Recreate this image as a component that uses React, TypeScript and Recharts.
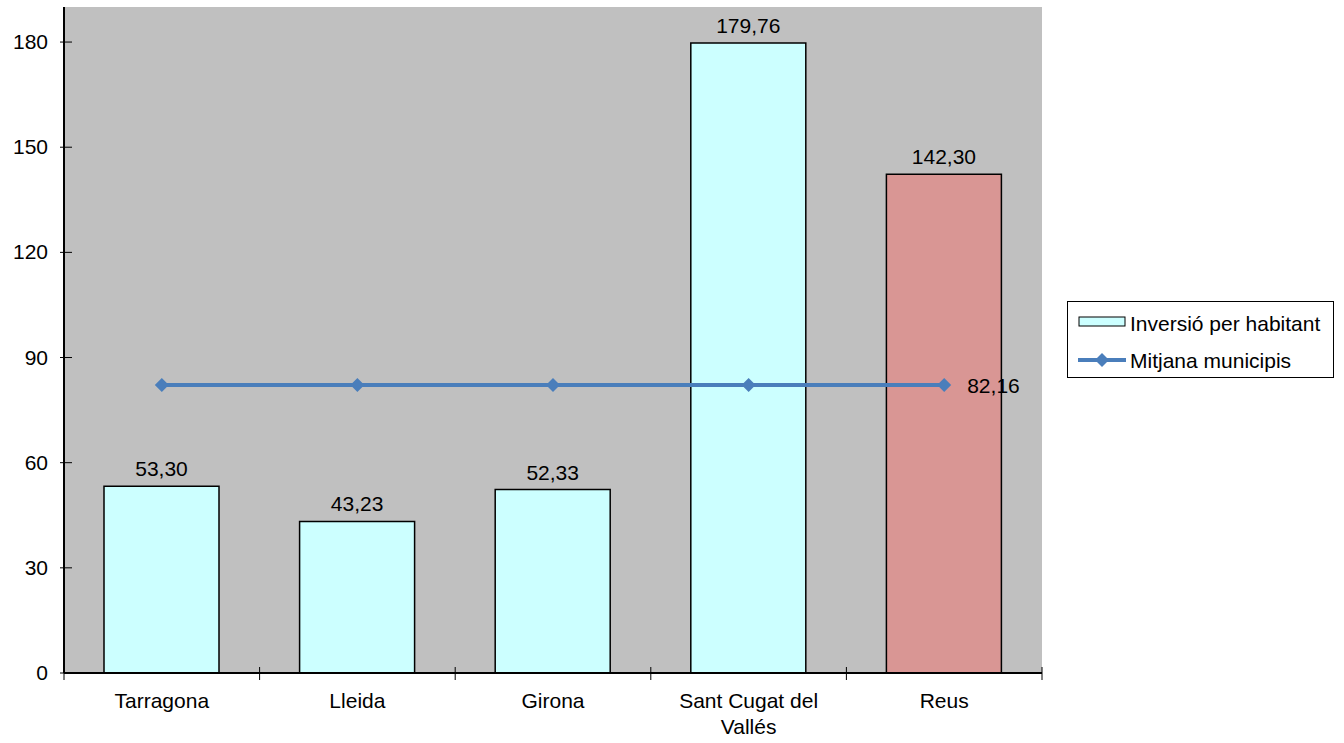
import React from "react";
import {
  ComposedChart,
  Bar,
  Line,
  XAxis,
  YAxis,
  CartesianGrid,
  Cell,
  LabelList,
} from "recharts";

const cities = ["Tarragona", "Lleida", "Girona", "Sant Cugat del Vallés", "Reus"];
const inversio = [53.3, 43.23, 52.33, 179.76, 142.3];
const mitjana = [82.16, 82.16, 82.16, 82.16, 82.16];
const yTicks = [0, 30, 60, 90, 120, 150, 180];

const data = cities.map((c, i) => ({ city: c, inversio: inversio[i], mitjana: mitjana[i] }));

const FONT = "'Liberation Sans', Arial, sans-serif";
const FS = 21;
const HALF_BAND = 97.8;
const fmt = (v: number) => v.toFixed(2).replace(".", ",");

// wrap a category name into lines of at most ~14 characters
const wrap = (s: string, max = 14) => {
  const lines: string[] = [];
  let cur = "";
  s.split(" ").forEach((w) => {
    const next = cur ? cur + " " + w : w;
    if (next.length > max && cur) {
      lines.push(cur);
      cur = w;
    } else {
      cur = next;
    }
  });
  if (cur) lines.push(cur);
  return lines;
};

const YTick = (props: any) => {
  const { x, y, payload } = props;
  return (
    <g>
      <line x1={x + 4} x2={x + 16} y1={y} y2={y} stroke="#000" />
      <text x={x - 8} y={y} dy={7} textAnchor="end" fontSize={FS} fontFamily={FONT} fill="#000">
        {payload.value}
      </text>
    </g>
  );
};

const XTick = (props: any) => {
  const { x, y, payload, index } = props;
  return (
    <g>
      <line x1={x - HALF_BAND} x2={x - HALF_BAND} y1={y - 14} y2={y - 1} stroke="#000" />
      {index === cities.length - 1 && (
        <line x1={x + HALF_BAND} x2={x + HALF_BAND} y1={y - 14} y2={y - 1} stroke="#000" />
      )}
      <text x={x} y={y + 27} textAnchor="middle" fontSize={FS} fontFamily={FONT} fill="#000">
        {wrap(payload.value).map((l, i) => (
          <tspan key={i} x={x} dy={i === 0 ? 0 : 26}>
            {l}
          </tspan>
        ))}
      </text>
    </g>
  );
};

const Diamond = (props: any) => {
  const { cx, cy } = props;
  if (cx == null || cy == null) return null;
  const s = 7;
  return (
    <polygon
      points={`${cx},${cy - s} ${cx + s},${cy} ${cx},${cy + s} ${cx - s},${cy}`}
      fill="#4A7EBB"
    />
  );
};

const LastLabel = (props: any) => {
  const { x, y, index, value } = props;
  if (index !== cities.length - 1) return null;
  return (
    <text x={x + 23} y={y} dy={8} fontSize={FS} fontFamily={FONT} fill="#000">
      {fmt(value)}
    </text>
  );
};

const Legend = () => (
  <div
    style={{
      position: "absolute",
      left: 1067,
      top: 301,
      width: 265,
      height: 75,
      border: "1px solid #000",
      background: "#fff",
    }}
  >
    <svg width={265} height={75} style={{ position: "absolute", left: 0, top: 0 }}>
      <rect x={11} y={15} width={46} height={9} fill="#CCFFFF" stroke="#000" />
      <text x={62} y={29} fontSize={FS} fontFamily={FONT} fill="#000">Inversió per habitant</text>
      <line x1={10} x2={58} y1={58} y2={58} stroke="#4A7EBB" strokeWidth={4} />
      <polygon points="34,51 41,58 34,65 27,58" fill="#4A7EBB" />
      <text x={62} y={66} fontSize={FS} fontFamily={FONT} fill="#000">Mitjana municipis</text>
    </svg>
  </div>
);

export default function App() {
  return (
    <div style={{ position: "absolute", left: 0, top: 0, width: 1344, height: 743, background: "#fff" }}>
      <ComposedChart
        width={1344}
        height={743}
        data={data}
        margin={{ top: 7, right: 302, bottom: 30, left: 10 }}
      >
        <CartesianGrid fill="#C0C0C0" horizontal={false} vertical={false} />
        <XAxis
          xAxisId="top"
          orientation="top"
          dataKey="city"
          height={0}
          tick={false}
          tickLine={false}
          axisLine={{ stroke: "#808080", strokeWidth: 2 }}
        />
        <YAxis
          yAxisId="right"
          orientation="right"
          width={0}
          tick={false}
          tickLine={false}
          axisLine={{ stroke: "#808080", strokeWidth: 2 }}
          domain={[0, 190]}
        />
        <XAxis
          dataKey="city"
          height={40}
          interval={0}
          tick={<XTick />}
          tickLine={false}
          axisLine={{ stroke: "#000", strokeWidth: 2 }}
        />
        <YAxis
          yAxisId="left"
          width={54}
          domain={[0, 190]}
          ticks={yTicks}
          tick={<YTick />}
          tickLine={false}
          axisLine={{ stroke: "#000", strokeWidth: 2 }}
        />
        <Bar
          yAxisId="left"
          dataKey="inversio"
          barSize={115}
          stroke="#000"
          strokeWidth={1.5}
          isAnimationActive={false}
        >
          {data.map((d, i) => (
            <Cell key={d.city} fill={i === cities.length - 1 ? "#D99694" : "#CCFFFF"} />
          ))}
          <LabelList
            dataKey="inversio"
            position="top"
            offset={10}
            formatter={(v: any) => fmt(Number(v))}
            style={{ fontSize: FS, fontFamily: FONT, fill: "#000" }}
          />
        </Bar>
        <Line
          yAxisId="left"
          dataKey="mitjana"
          stroke="#4A7EBB"
          strokeWidth={4}
          dot={<Diamond />}
          activeDot={false}
          isAnimationActive={false}
        >
          <LabelList dataKey="mitjana" content={<LastLabel />} />
        </Line>
      </ComposedChart>
      <Legend />
    </div>
  );
}
